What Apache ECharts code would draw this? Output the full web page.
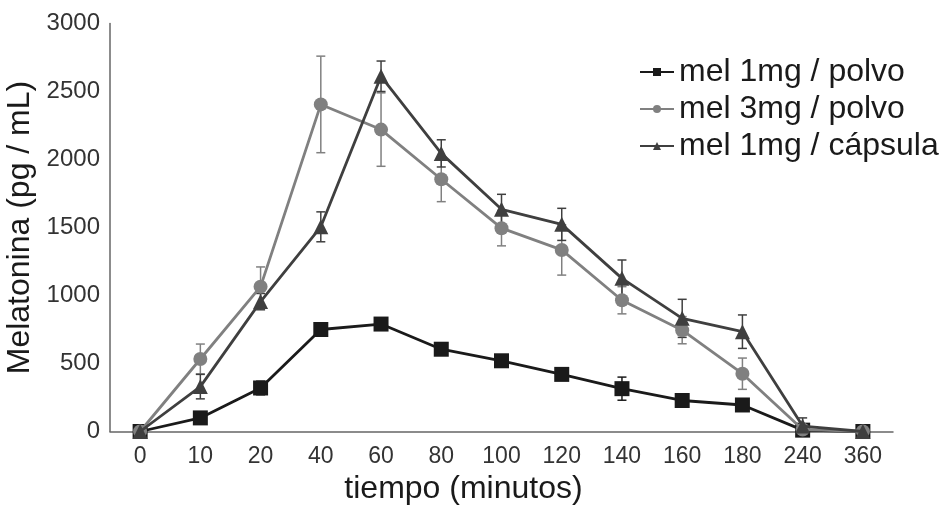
<!DOCTYPE html>
<html>
<head>
<meta charset="utf-8">
<script src="https://cdn.jsdelivr.net/npm/echarts@6/dist/echarts.min.js"></script>
<style>html,body{margin:0;padding:0;background:#fff}#c{width:946px;height:506px}</style>
</head>
<body>
<div id="c"></div>
<script>
var categories = ['0','10','20','40','60','80','100','120','140','160','180','240','360'];
var seriesNames = ['mel 1mg / polvo','mel 3mg / polvo','mel 1mg / cápsula'];
var mel1Polvo = [0, 100, 320, 750, 790, 605, 520, 420, 315, 228, 195, 10, 0];
var mel1PolvoErr = [0, 20, 50, 40, 30, 30, 30, 30, 85, 30, 30, 10, 0];
var mel3Polvo = [0, 533, 1065, 2405, 2220, 1855, 1495, 1335, 965, 745, 425, 15, 0];
var mel3PolvoErr = [0, 110, 145, 355, 270, 165, 130, 185, 100, 100, 115, 20, 0];
var mel1Capsula = [0, 330, 955, 1505, 2612, 2045, 1634, 1523, 1126, 832, 734, 40, 0];
var mel1CapsulaErr = [0, 90, 60, 110, 112, 100, 110, 118, 135, 140, 123, 60, 0];
var yTicks = [0, 500, 1000, 1500, 2000, 2500, 3000];

var colors = ['#1a1a1a', '#808080', '#3f3f3f'];
var symbols = ['rect', 'circle', 'triangle'];
var values = [mel1Polvo, mel3Polvo, mel1Capsula];
var errs = [mel1PolvoErr, mel3PolvoErr, mel1CapsulaErr];

function errData(v, e) {
  return v.map(function (val, i) { return [i, val - e[i], val + e[i]]; });
}
function errSeries(idx) {
  return {
    type: 'custom',
    name: 'err' + idx,
    z: 1,
    data: errData(values[idx], errs[idx]),
    encode: { x: 0, y: [1, 2] },
    renderItem: function (params, api) {
      var x = api.value(0);
      var lo = api.coord([x, api.value(1)]);
      var hi = api.coord([x, api.value(2)]);
      var w = 4.5;
      var st = { stroke: colors[idx], lineWidth: 1.5 };
      return {
        type: 'group',
        children: [
          { type: 'line', shape: { x1: lo[0], y1: lo[1], x2: hi[0], y2: hi[1] }, style: st },
          { type: 'line', shape: { x1: lo[0] - w, y1: lo[1], x2: lo[0] + w, y2: lo[1] }, style: st },
          { type: 'line', shape: { x1: hi[0] - w, y1: hi[1], x2: hi[0] + w, y2: hi[1] }, style: st }
        ]
      };
    },
    silent: true
  };
}
function lineSeries(idx, size) {
  return {
    type: 'line',
    name: seriesNames[idx],
    data: values[idx],
    symbol: symbols[idx],
    symbolSize: size,
    showAllSymbol: true,
    z: 3 + (idx === 0 ? 0 : idx),
    lineStyle: { color: colors[idx], width: 2.8 },
    itemStyle: { color: colors[idx] },
    animation: false
  };
}

var chart = echarts.init(document.getElementById('c'), null, { renderer: 'canvas' });
chart.setOption({
  animation: false,
  backgroundColor: '#fff',
  grid: { left: 110, right: 53, top: 23.5, bottom: 74.5, containLabel: false, outerBoundsMode: 'none' },
  legend: {
    orient: 'vertical',
    left: 634,
    top: 51,
    itemWidth: 34,
    itemHeight: 10,
    itemGap: 5,
    data: seriesNames,
    textStyle: { fontFamily: 'Liberation Sans, Arial', fontSize: 32, color: '#1a1a1a', padding: [0, 0, 0, 0] }
  },
  xAxis: {
    type: 'category',
    data: categories,
    boundaryGap: true,
    name: 'tiempo (minutos)',
    nameLocation: 'middle',
    nameGap: 42,
    nameTextStyle: { fontFamily: 'Liberation Sans, Arial', fontSize: 32, color: '#1a1a1a', padding: [0, 76, 0, 0] },
    axisLine: { lineStyle: { color: '#666', width: 1.5 } },
    axisTick: { show: false },
    axisLabel: { fontFamily: 'Liberation Sans, Arial', fontSize: 23, color: '#333', margin: 14 },
    splitLine: { show: false }
  },
  yAxis: {
    type: 'value',
    min: 0,
    max: 3000,
    interval: 500,
    name: 'Melatonina (pg / mL)',
    nameLocation: 'middle',
    nameGap: 70,
    nameTextStyle: { fontFamily: 'Liberation Sans, Arial', fontSize: 32, color: '#1a1a1a' },
    axisLine: { show: true, lineStyle: { color: '#666', width: 1.5 } },
    axisTick: { show: false },
    axisLabel: { fontFamily: 'Liberation Sans, Arial', fontSize: 24, color: '#333', margin: 10,
      formatter: function (v) { return yTicks.indexOf(v) >= 0 ? String(v) : ''; } },
    splitLine: { show: false }
  },
  series: [
    errSeries(0), errSeries(1), errSeries(2),
    lineSeries(0, 15), lineSeries(1, 14), lineSeries(2, 15)
  ]
});
</script>
</body>
</html>
